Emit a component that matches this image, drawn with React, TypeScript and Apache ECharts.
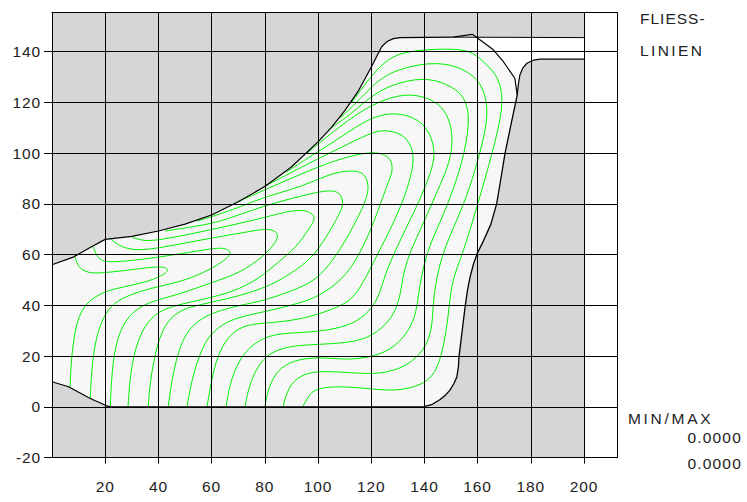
import React, { useEffect, useRef } from "react";
import * as echarts from "echarts";

type P = [number, number];

const xTicks = [20, 40, 60, 80, 100, 120, 140, 160, 180, 200];
const yTicks = [-20, 0, 20, 40, 60, 80, 100, 120, 140];
const X_MAX = 212.4;
const Y_MIN = -20;
const Y_MAX = 155.4;

const topEdge: P[] = [[0, 56], [8, 59], [14, 62.6], [20, 66], [30, 67.2], [40, 69.3], [50, 72], [60, 75.6], [70, 80.8], [80, 86.8], [90, 94.5], [100, 104.4], [105, 110], [110, 116.6], [115, 124.2], [119.8, 133.4], [122, 138], [124, 142], [126, 144], [128.3, 145.1], [130.9, 145.5], [150.9, 145.7]];
const freeEdge: P[] = [[150.9, 145.7], [158, 146.8], [162, 143.8], [165.9, 140.7], [169.7, 136], [174, 129.5], [174.9, 122.9]];
const rightEdge: P[] = [[174.9, 122.9], [172.5, 111], [170.3, 99.9], [168.6, 89], [167.2, 80.2], [165, 72], [162, 65], [159.9, 60.5], [158.5, 56.5], [157.2, 51.3], [156.2, 46], [155.3, 39.4], [153, 19.7], [152.8, 16], [152.2, 11.8], [151, 9], [149.6, 6.6], [148, 4.7], [145.9, 2.9], [143, 1], [140.2, 0.2], [140, 0]];
const bottomEdge: P[] = [[140, 0], [21.9, 0], [20, 0.6], [18.1, 1.6], [16, 2.5], [13.7, 3.7], [6.2, 7.9], [0, 9.9]];
const dieShoulder: P[] = [[174.9, 122.9], [175.3, 127], [175.9, 130.8], [177, 133.5], [178.5, 135.4], [181, 136.6], [183.5, 137], [200, 137]];
const dieTopRun: P[] = [[150.9, 145.7], [200, 145.5]];
const dieBlock: P[] = [[0, Y_MIN], [200, Y_MIN], [200, Y_MAX], [0, Y_MAX]];

const L1: P[] = [[6.8, 7.8], [7.2, 18.4], [8.7, 31.4], [11.7, 40.1], [18.1, 44.8], [24.5, 46.8], [35.8, 49.2], [41.8, 51.9], [44.5, 54.3], [40.7, 55.5], [32, 54.3], [19.2, 52.7], [13.2, 52.7], [9.8, 55.1], [8.7, 59]];
const L2: P[] = [[14.4, 3.4], [14.7, 11.7], [16.2, 27.5], [20.7, 38.9], [26.8, 43.3], [36.9, 46.8], [48.2, 49.2], [56.8, 52.7], [64.3, 57.1], [68.2, 61], [64.3, 63], [56.8, 61.8], [40.7, 59], [25.6, 57.1], [19.2, 57.1], [17, 59], [15.5, 63]];
const L3: P[] = [[21.9, 0.3], [22.6, 15.7], [24.5, 27.5], [28.6, 36.2], [35.8, 41.3], [47, 44], [59.5, 48.8], [70.7, 52.7], [79.7, 59.4], [83.9, 64.5], [85.5, 68], [82, 70.6], [73.4, 68.9], [59.5, 66.5], [40.7, 62.6], [30.5, 61.4], [24.5, 63.8], [21.9, 66.5]];
const L4: P[] = [[28.6, 0.3], [29.4, 13.3], [32, 26.3], [36.9, 35.4], [43.3, 39.3], [55.7, 42.1], [68.1, 45.2], [78.2, 50.7], [84.6, 56.7], [92.1, 63], [97, 70.9], [99.4, 74.4], [96.5, 77.6], [89.5, 77.4], [79.4, 74.4], [59.5, 69.7], [40.7, 65.7], [34.2, 65.3], [30.1, 66.9]];
const L5: P[] = [[36.2, 0.3], [36.9, 10.5], [39.5, 25.1], [43.3, 34.2], [49.3, 38.9], [60.6, 41.3], [79.4, 46], [92.1, 53.9], [99.7, 60.6], [107.5, 74.8], [110, 80.3], [108, 85.3], [101.9, 85.2], [90.6, 82.3], [79.4, 79.1], [68.1, 74.8], [59.8, 72], [42.5, 69.3]];
const L6: P[] = [[43.7, 0.3], [45.2, 11.7], [48.2, 25.1], [53.1, 33], [60.6, 37.3], [70.7, 40.1], [79.4, 41.7], [93.3, 46.8], [100.8, 51.1], [108.3, 61.8], [113.2, 70.9], [117.7, 80.3], [119.4, 87], [117.5, 92.2], [113.2, 93.3], [105.7, 92.2], [99.7, 89.4], [89.5, 85.4], [79.7, 82.7], [68.1, 77.6], [54.6, 73.2]];
const L7: P[] = [[50.8, 0.3], [52.7, 11.7], [56.4, 23.5], [60.6, 30.2], [68.1, 35], [79.4, 37.3], [93.3, 40.9], [99.7, 43.3], [109.4, 50], [115.8, 60.2], [121.4, 73.6], [125.9, 87.4], [128.4, 93.3], [127.3, 98], [124, 100], [118.4, 100.4], [108.3, 97.7], [99.7, 94.5], [79.7, 85.4], [69.6, 80.7]];
const L8: P[] = [[58.3, 0.3], [60.2, 11.7], [62.1, 19.6], [65.8, 27.5], [71.8, 32.2], [79.7, 33], [89.5, 33.8], [99.7, 36.2], [109.4, 40.1], [114.7, 44], [122.2, 59.8], [129, 73.6], [133.5, 85.4], [136.2, 96.1], [135.4, 103], [131.3, 108], [124.5, 109.2], [119.6, 107.9], [108.3, 102], [99.7, 97.7], [79.4, 86.6]];
const L9: P[] = [[65.5, 0.3], [67, 10.5], [71.8, 21.6], [79.4, 27.5], [86.9, 29.1], [99.7, 29.5], [109.4, 31.4], [115.8, 34.2], [122.2, 40.9], [124.5, 50], [128.2, 59.8], [134.6, 73.6], [139.1, 83.5], [143.5, 95.3], [144, 102.4], [140.2, 112.5], [129.7, 116.4], [119.6, 114.2], [108.3, 106], [99.7, 100.4], [88, 92.5]];
const L10: P[] = [[72.6, 0.3], [74.5, 10.5], [79.4, 19.6], [85.8, 23.1], [93.3, 24.3], [101.9, 24.7], [114.7, 25.5], [122.2, 29.1], [128.2, 35.4], [130.9, 43.3], [131.6, 50], [133.9, 59.8], [140.2, 73.6], [144.7, 84.7], [149.8, 96.5], [151, 107.9], [147.6, 118.4], [139.5, 122.7], [130.9, 123.3], [119.6, 119], [108.3, 110.7], [95.9, 100]];
const L11: P[] = [[80.1, 0.3], [81.3, 7.4], [84.6, 14.5], [90.6, 18.4], [99.7, 19.6], [108.3, 18.8], [114.7, 18.8], [123.3, 20.4], [130.9, 25.1], [136.5, 34.2], [137.6, 43.3], [140.2, 59.8], [146.3, 73.6], [149.6, 82.3], [154.1, 95.3], [157.4, 113], [155.2, 122.7], [148.5, 127.4], [139.5, 130], [127.1, 126.9], [119.6, 122.1], [113.2, 116.2], [108.3, 112.3], [103.8, 109.1]];
const L12: P[] = [[86.9, 0.3], [88.8, 7.8], [93.3, 12.5], [99.7, 14.1], [108.3, 13.7], [114.7, 13.3], [123.3, 12.9], [133.5, 15.7], [141, 23.5], [143.2, 33], [143.2, 43.3], [146.3, 59.8], [152.3, 73.6], [157.2, 86.6], [160.9, 100], [163.8, 113], [163.4, 121.5], [160.4, 129.4], [152.3, 134.5], [142.1, 136], [127.1, 132.4], [119.6, 125.7], [114.7, 120.1], [108.3, 113.8]];
const L13: P[] = [[94.4, 0.3], [97, 5.4], [100, 7.4], [108.3, 8.2], [120.7, 7], [129.7, 6.2], [139.5, 8.6], [144.7, 13.7], [147.8, 26.3], [149.3, 39.3], [150.4, 50], [154.2, 59.8], [158.3, 73.6], [164.3, 95.3], [167.7, 109.1], [169.8, 120.9], [167.9, 130], [163.5, 134.7], [158.3, 139.9], [152.3, 141], [143.2, 141], [131.9, 139.9], [125.9, 136.7], [121.4, 132], [116.9, 126.1], [112.8, 120.1]];
const flowLines = [L1, L2, L3, L4, L5, L6, L7, L8, L9, L10, L11, L12, L13];

const workpiece: P[] = [...topEdge, ...freeEdge, ...rightEdge, ...bottomEdge];
const pocket: P[] = [[150.9, 145.5], [200, 145.5], ...[...dieShoulder].reverse()];

const FONT = "'Liberation Sans', Arial, sans-serif";
const FS = 15.5;

const polygon = (pts: P[], fill: string) => ({
  type: "custom",
  silent: true,
  coordinateSystem: "cartesian2d",
  clip: false,
  z: 1,
  data: [[0, 0]],
  renderItem: (_p: any, api: any) => ({
    type: "polygon",
    shape: { points: pts.map((q) => api.coord(q)) },
    style: { fill, stroke: "none" },
  }),
});

// Draws the read control points as a clamped cubic B-spline, so that a flow line stays as round as in the original.
const splinePath = (c: number[][]) => {
  const n = c.length;
  const at = (i: number) => c[Math.max(0, Math.min(n - 1, i))];
  const knot = (i: number) => [0, 1].map((k) => (at(i - 1)[k] + 4 * at(i)[k] + at(i + 1)[k]) / 6);
  let d = `M${c[0][0]} ${c[0][1]}L${knot(0)[0]} ${knot(0)[1]}`;
  for (let i = 0; i < n - 1; i++) {
    const a = at(i), b = at(i + 1), e = knot(i + 1);
    d += `C${(2 * a[0] + b[0]) / 3} ${(2 * a[1] + b[1]) / 3} ${(a[0] + 2 * b[0]) / 3} ${(a[1] + 2 * b[1]) / 3} ${e[0]} ${e[1]}`;
  }
  return d + `L${c[n - 1][0]} ${c[n - 1][1]}`;
};

const flow = (pts: P[]) => ({
  type: "custom",
  silent: true,
  coordinateSystem: "cartesian2d",
  clip: false,
  z: 3,
  data: [[0, 0]],
  renderItem: (_p: any, api: any) => ({
    type: "path",
    shape: { pathData: splinePath(pts.map((q) => api.coord(q))) },
    style: { fill: "none", stroke: "#00f000", lineWidth: 1 },
  }),
});

const line = (pts: P[], color: string, width: number, smooth: number, z: number) => ({
  type: "line",
  silent: true,
  data: pts,
  symbol: "none",
  smooth,
  clip: false,
  z,
  lineStyle: { color, width },
});

const label = (text: string, x: number, y: number, align: string) => ({
  type: "text",
  x,
  y,
  style: { text, fill: "#222", font: `${FS}px ${FONT}`, textAlign: align, textVerticalAlign: "middle" },
});

const spacing: Record<string, string> = { "FLIESS-": "1px", LINIEN: "2.4px", "MIN/MAX": "2.7px", "0.0000": "1.2px" };

export default function App() {
  const ref = useRef<HTMLDivElement>(null);
  useEffect(() => {
    const chart = echarts.init(ref.current!, null, { renderer: "svg" });
    const ink = { lineStyle: { color: "#000", width: 1 } };
    const text = { color: "#222", fontFamily: FONT, fontSize: FS };
    chart.setOption({
      animation: false,
      backgroundColor: "#fff",
      grid: { left: 52, right: 130, top: 12.5, bottom: 44.4 },
      xAxis: [
        {
          type: "value", min: 0, max: X_MAX, z: 10,
          axisLine: { show: true, onZero: false, ...ink },
          axisTick: { show: true, length: 6, customValues: xTicks, ...ink },
          axisLabel: { ...text, margin: 21, customValues: xTicks, formatter: (v: number) => `${v}` },
          splitLine: { show: true, ...ink },
        },
        {
          type: "value", position: "top", min: 0, max: X_MAX, z: 10,
          axisLine: { show: true, onZero: false, ...ink },
          axisTick: { show: false }, axisLabel: { show: false }, splitLine: { show: false },
        },
      ],
      yAxis: [
        {
          type: "value", min: Y_MIN, max: Y_MAX, z: 10,
          axisLine: { show: true, onZero: false, ...ink },
          axisTick: { show: true, length: 8, customValues: yTicks, ...ink },
          axisLabel: { ...text, margin: 11, customValues: yTicks, formatter: (v: number) => `${v}` },
          splitLine: { show: true, ...ink },
        },
        {
          type: "value", position: "right", min: Y_MIN, max: Y_MAX, z: 10,
          axisLine: { show: true, onZero: false, ...ink },
          axisTick: { show: false }, axisLabel: { show: false }, splitLine: { show: false },
        },
      ],
      series: [
        polygon(dieBlock, "#d6d6d6"),
        polygon(pocket, "#ffffff"),
        polygon(workpiece, "#f7f7f7"),
        ...flowLines.map(flow),
        line(topEdge, "#000", 1.2, 0, 4),
        line(dieTopRun, "#000", 1, 0, 4),
        line(freeEdge, "#000", 1.2, 0, 4),
        line(rightEdge, "#000", 1.3, 0, 4),
        line(bottomEdge, "#000", 1.2, 0, 4),
        line(dieShoulder, "#000", 1.2, 0, 4),
      ],
      graphic: [
        label("FLIESS-", 640, 18, "left"),
        label("LINIEN", 640, 50, "left"),
        label("MIN/MAX", 628, 418, "left"),
        label("0.0000", 742, 437, "right"),
        label("0.0000", 742, 463, "right"),
      ],
    });
    ref.current!.querySelectorAll("text").forEach((t) => {
      const s = spacing[(t.textContent || "").trim()];
      if (s) (t as SVGElement).style.letterSpacing = s;
    });
    return () => chart.dispose();
  }, []);
  return (
    <div
      ref={ref}
      style={{ position: "fixed", left: 0, top: 0, width: 747, height: 502, letterSpacing: "0.9px" }}
    />
  );
}
